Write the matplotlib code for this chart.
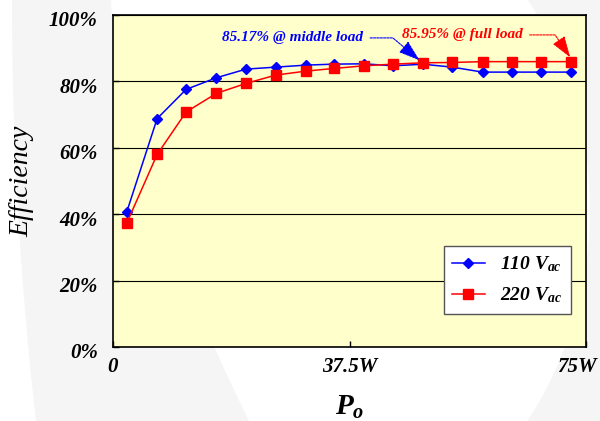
import numpy as np
import matplotlib
matplotlib.use('Agg')
import matplotlib.pyplot as plt
from matplotlib.patches import Polygon
from matplotlib.transforms import ScaledTranslation

# output power (W) and efficiency (%)
power = [2.2, 7.0, 11.6, 16.4, 21.1, 25.8, 30.6, 35.0, 39.8, 44.4,
         49.2, 53.8, 58.6, 63.3, 67.9, 72.7]
eff_110 = [40.8, 68.8, 77.6, 81.1, 83.7, 84.3, 84.9, 85.2, 85.3, 84.7,
           85.17, 84.3, 82.8, 82.8, 82.8, 82.8]
eff_220 = [37.4, 58.0, 70.8, 76.4, 79.4, 81.9, 83.1, 83.9, 84.7, 85.2,
           85.6, 85.7, 85.95, 85.95, 85.95, 85.95]

x_ticks = [0, 37.5, 75]
x_tick_labels = ['0', '37.5W', '75W']
y_ticks = [0, 20, 40, 60, 80, 100]

plt.rcParams['font.family'] = ['Liberation Serif', 'DejaVu Serif']
plt.rcParams['font.weight'] = 'bold'
plt.rcParams['font.style'] = 'italic'
plt.rcParams['mathtext.fontset'] = 'custom'
plt.rcParams['mathtext.it'] = 'Liberation Serif:bold:italic'
plt.rcParams['mathtext.rm'] = 'Liberation Serif:bold:italic'

fig = plt.figure(figsize=(6, 4.21), dpi=100)
W, H = 600.0, 421.0


def to_fig(xs, ys):
    return np.column_stack([np.asarray(xs) / W, 1 - np.asarray(ys) / H])


# faint watermark shapes in the background
yy = np.linspace(0, H, 60)
right_x = 203 + np.sqrt(387 ** 2 - (yy - 210) ** 2)
right_pts = np.vstack([to_fig(right_x, yy), to_fig([W, W], [H, 0])])
fig.patches.append(Polygon(right_pts, closed=True, transform=fig.transFigure,
                           facecolor='#f5f5f5', edgecolor='none', zorder=-10))
outer_x = 12 + 24 * (yy / H) ** 2
inner_x = 111 + 138 * (yy / H) ** 1.5
left_pts = np.vstack([to_fig(outer_x, yy), to_fig(inner_x[::-1], yy[::-1])])
fig.patches.append(Polygon(left_pts, closed=True, transform=fig.transFigure,
                           facecolor='#f5f5f5', edgecolor='none', zorder=-10))

ax = fig.add_axes([113 / W, 74 / H, 473 / W, 332 / H])
ax.set_facecolor('#ffffcc')

ax.plot(power, eff_110, color='#0000ff', marker='D', markersize=5, lw=1.1,
        label='110 $V_{ac}$', zorder=3)
ax.plot(power, eff_220, color='#ff0000', marker='s', markersize=6.5, lw=1.1,
        label='220 $V_{ac}$', zorder=3)

ax.set_xlim(0, 75)
ax.set_ylim(0, 100)
ax.set_xticks(x_ticks)
ax.set_xticklabels(x_tick_labels)
ax.set_yticks(y_ticks)
ax.set_yticklabels([f'{v}%' for v in y_ticks])
ax.tick_params(axis='both', direction='in', length=4, labelsize=15, width=1)
ax.tick_params(axis='x', pad=7)
ax.tick_params(axis='y', pad=11)
ax.grid(axis='y', color='black', lw=0.8)
for s in ax.spines.values():
    s.set_linewidth(1.2)
    s.set_color('black')

down = ScaledTranslation(0, -0.04, fig.dpi_scale_trans)
for lab in ax.get_yticklabels():
    lab.set_transform(lab.get_transform() + down)
last = ax.get_xticklabels()[-1]
last.set_transform(last.get_transform() + ScaledTranslation(-0.09, 0, fig.dpi_scale_trans))

ax.set_ylabel('Efficiency', fontsize=20, va='center')
ax.yaxis.set_label_coords(-0.192, 0.5)
ax.set_xlabel('$P_o$', fontsize=21, va='top')
ax.xaxis.set_label_coords(0.5, -0.142)

ax.annotate('85.17% @ middle load', xy=(power[10] - 0.6, eff_110[10] + 1.2),
            xytext=(28.5, 93.1), ha='center', va='center', fontsize=11,
            color='#0000ff',
            arrowprops=dict(arrowstyle='-|>,head_length=1.2,head_width=0.4',
                            color='#0000ff', lw=0.8, ls=(0, (2, 1)),
                            connectionstyle='angle,angleA=0,angleB=-40,rad=0',
                            shrinkA=3, shrinkB=0))
ax.annotate('85.95% @ full load', xy=(power[15] - 0.2, eff_220[15] + 1.3),
            xytext=(55.4, 94.0), ha='center', va='center', fontsize=11,
            color='#ff0000',
            arrowprops=dict(arrowstyle='-|>,head_length=1.2,head_width=0.4',
                            color='#ff0000', lw=0.8, ls=(0, (2, 1)),
                            connectionstyle='angle,angleA=0,angleB=-56,rad=0',
                            shrinkA=3, shrinkB=0))

leg = ax.legend(loc='lower right', bbox_to_anchor=(0.968, 0.099), borderaxespad=0,
                fontsize=14, numpoints=1, fancybox=False, framealpha=1,
                edgecolor='#555555', handlelength=1.65, handletextpad=0.8,
                labelspacing=0.6, borderpad=0.45)
leg.get_frame().set_linewidth(1.0)

fig.savefig('out.png', dpi=100)
